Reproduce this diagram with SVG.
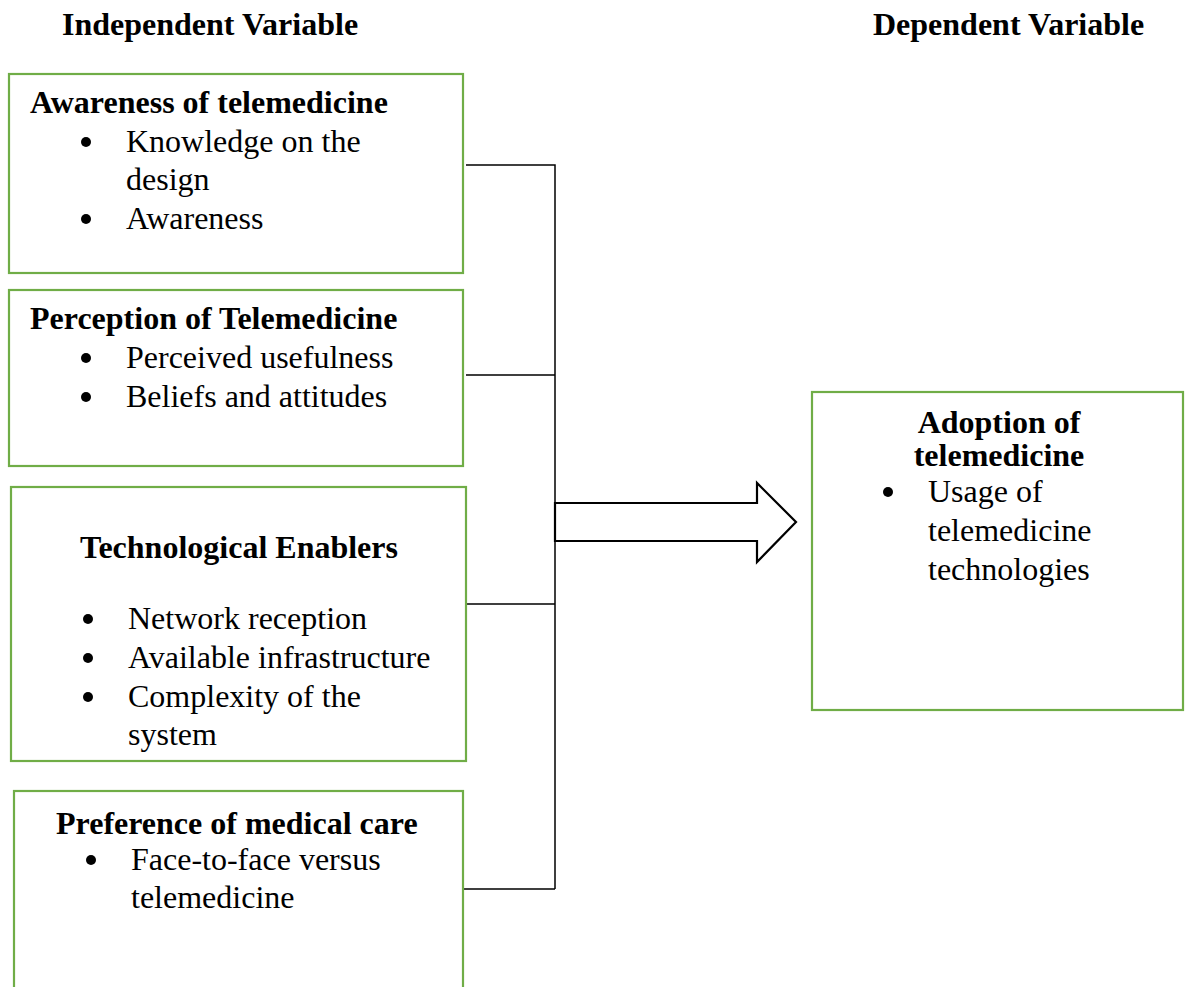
<svg xmlns="http://www.w3.org/2000/svg" width="1186" height="987" viewBox="0 0 1186 987">
<style>
.box{fill:#fff;stroke:#70AD47;stroke-width:2.2}
.h{font-family:"Liberation Serif","Times New Roman",serif;font-weight:bold;font-size:32px;fill:#000}
.t{font-family:"Liberation Serif","Times New Roman",serif;font-size:32px;fill:#000}
.b{fill:#000}
.ln{stroke:#000;stroke-width:1.5;fill:none}
.arrow{fill:#fff;stroke:#000;stroke-width:2.2;stroke-linejoin:miter}
</style>
<rect width="1186" height="987" fill="#fff"/>
<g id="headers">
<text class="h" x="62" y="35">Independent Variable</text>
<text class="h" x="873" y="35">Dependent Variable</text>
</g>
<g id="connectors">
<path class="ln" d="M466 165H555V889M466 375H555M463 604H555M463 889H555"/>
<polygon class="arrow" points="555,503 757,503 757,483 796,522 757,562 757,541 555,541"/>
</g>
<g id="awareness">
<rect class="box" x="9" y="74" width="454" height="199"/>
<text class="h" x="30" y="113">Awareness of telemedicine</text>
<circle class="b" cx="86" cy="142" r="5"/>
<text class="t" x="126" y="152">Knowledge on the</text>
<text class="t" x="126" y="190">design</text>
<circle class="b" cx="86" cy="219" r="5"/>
<text class="t" x="126" y="229">Awareness</text>
</g>
<g id="perception">
<rect class="box" x="9" y="290" width="454" height="176"/>
<text class="h" x="30" y="329">Perception of Telemedicine</text>
<circle class="b" cx="86" cy="358" r="5"/>
<text class="t" x="126" y="368">Perceived usefulness</text>
<circle class="b" cx="86" cy="397" r="5"/>
<text class="t" x="126" y="407">Beliefs and attitudes</text>
</g>
<g id="technological">
<rect class="box" x="11" y="487" width="455" height="274"/>
<text class="h" x="80" y="558">Technological Enablers</text>
<circle class="b" cx="88" cy="619" r="5"/>
<text class="t" x="128" y="629">Network reception</text>
<circle class="b" cx="88" cy="658" r="5"/>
<text class="t" x="128" y="668">Available infrastructure</text>
<circle class="b" cx="88" cy="697" r="5"/>
<text class="t" x="128" y="707">Complexity of the</text>
<text class="t" x="128" y="745">system</text>
</g>
<g id="preference">
<rect class="box" x="14" y="791" width="449" height="210"/>
<text class="h" x="56" y="834">Preference of medical care</text>
<circle class="b" cx="91" cy="860" r="5"/>
<text class="t" x="131" y="870">Face-to-face versus</text>
<text class="t" x="131" y="908">telemedicine</text>
</g>
<g id="adoption">
<rect class="box" x="812" y="392" width="371" height="318"/>
<text class="h" x="999" y="433" text-anchor="middle">Adoption of</text>
<text class="h" x="999" y="466" text-anchor="middle">telemedicine</text>
<circle class="b" cx="888" cy="492" r="5"/>
<text class="t" x="928" y="502">Usage of</text>
<text class="t" x="928" y="541">telemedicine</text>
<text class="t" x="928" y="580">technologies</text>
</g>
</svg>
